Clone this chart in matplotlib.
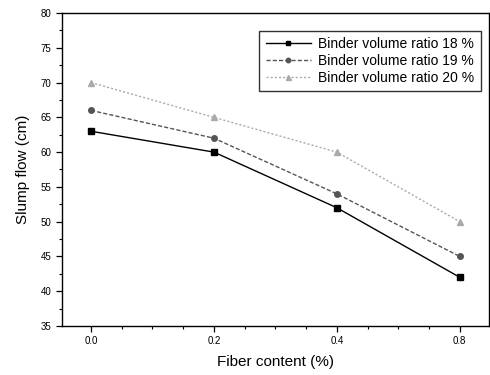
import matplotlib
matplotlib.use("Agg")
import matplotlib.pyplot as plt
from matplotlib.ticker import MultipleLocator

plt.rcParams['font.family'] = ['Liberation Sans', 'DejaVu Sans']

# datos
fiber = ["0.0", "0.2", "0.4", "0.8"]
ratio_18 = [63, 60, 52, 42]
ratio_19 = [66, 62, 54, 45]
ratio_20 = [70, 65, 60, 50]
labels = ["Binder volume ratio 18 %", "Binder volume ratio 19 %", "Binder volume ratio 20 %"]

x = list(range(len(fiber)))

fig = plt.figure(figsize=(4.9, 3.75), dpi=100)
ax = fig.add_axes([0.1265, 0.1307, 0.871, 0.8346])

ax.plot(x, ratio_18, color='black', lw=1.0, ls='-', marker='s', ms=4, label=labels[0])
ax.plot(x, ratio_19, color='#555555', lw=1.0, ls=(0, (3, 1.5)), marker='o', ms=4, label=labels[1])
ax.plot(x, ratio_20, color='#aaaaaa', lw=1.0, ls=(0, (1.5, 1.5)), marker='^', ms=4.5, label=labels[2])

ax.set_xlim(-0.236, 3.236)
ax.set_ylim(35, 80)
ax.set_xticks(x)
ax.set_xticklabels(fiber)
ax.xaxis.set_minor_locator(MultipleLocator(0.25))
ax.yaxis.set_major_locator(MultipleLocator(5))
ax.yaxis.set_minor_locator(MultipleLocator(2.5))
ax.tick_params(axis='both', which='major', direction='out', length=4, labelsize=7, width=0.9)
ax.tick_params(axis='both', which='minor', direction='out', length=2.5, width=0.8)

for s in ax.spines.values():
    s.set_linewidth(1.0)

ax.set_xlabel("Fiber content (%)", fontsize=11, labelpad=6)
ax.set_ylabel("Slump flow (cm)", fontsize=11, labelpad=8)

leg = ax.legend(loc='upper right', bbox_to_anchor=(0.981, 0.9425), borderaxespad=0,
                fontsize=10, frameon=True, fancybox=False, edgecolor='black',
                handlelength=3.3, borderpad=0.45, labelspacing=0.2, handletextpad=0.5,
                markerscale=0.8)
leg.get_frame().set_linewidth(1.0)

fig.savefig("out.png", dpi=100)
